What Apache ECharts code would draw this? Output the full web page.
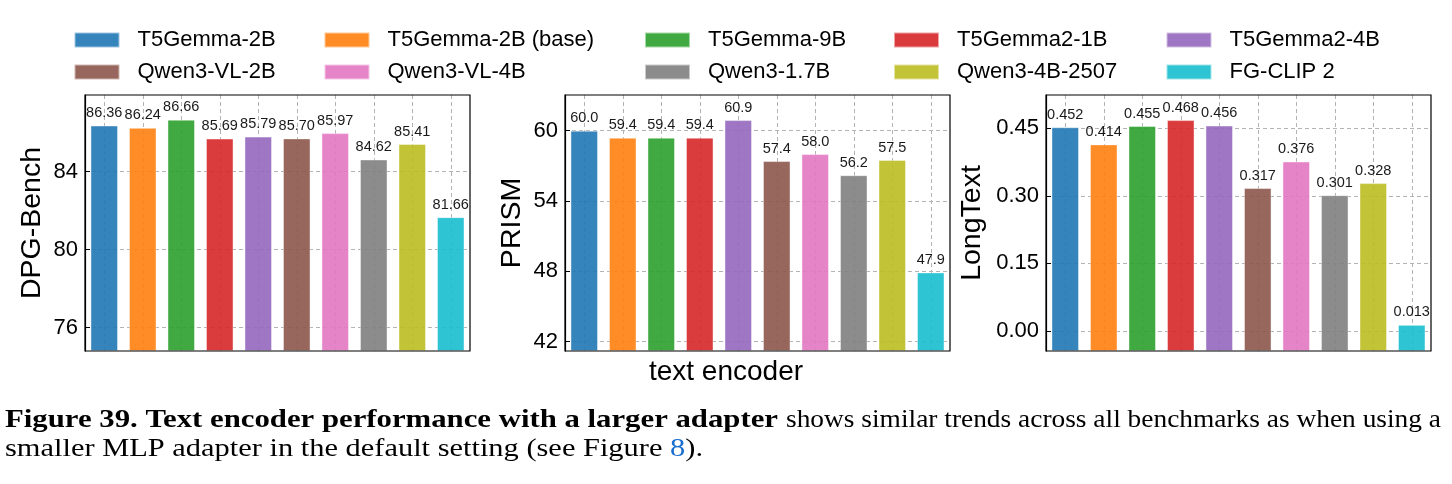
<!DOCTYPE html>
<html>
<head>
<meta charset="utf-8">
<script src="https://cdn.jsdelivr.net/npm/echarts@6/dist/echarts.min.js"></script>
<style>
  html, body { margin: 0; padding: 0; background: #fff; }
  #chart { width: 1452px; height: 484px; }
</style>
</head>
<body>
<div id="chart"></div>
<script>
var models = ["T5Gemma-2B", "T5Gemma-2B (base)", "T5Gemma-9B", "T5Gemma2-1B", "T5Gemma2-4B",
              "Qwen3-VL-2B", "Qwen3-VL-4B", "Qwen3-1.7B", "Qwen3-4B-2507", "FG-CLIP 2"];
var colors = ['#1f77b4', '#ff7f0e', '#2ca02c', '#d62728', '#9467bd',
              '#8c564b', '#e377c2', '#7f7f7f', '#bcbd22', '#17becf'];

var dpgBench = [86.36, 86.24, 86.66, 85.69, 85.79, 85.70, 85.97, 84.62, 85.41, 81.66];
var prism = [60.0, 59.4, 59.4, 59.4, 60.9, 57.4, 58.0, 56.2, 57.5, 47.9];
var longText = [0.452, 0.414, 0.455, 0.468, 0.456, 0.317, 0.376, 0.301, 0.328, 0.013];

var dpgTicks = [76, 80, 84];
var prismTicks = [42, 48, 54, 60];
var longTicks = [0, 0.15, 0.30, 0.45];

var panels = [
  { name: 'DPG-Bench', data: dpgBench, ticks: dpgTicks, min: 74.8, max: 87.93, dec: 2, tickDec: 0, left: 85, nameGap: 38 },
  { name: 'PRISM', data: prism, ticks: prismTicks, min: 41.2, max: 63.05, dec: 1, tickDec: 0, left: 565, nameGap: 38 },
  { name: 'LongText', data: longText, ticks: longTicks, min: -0.045, max: 0.524, dec: 3, tickDec: 2, left: 1046, nameGap: 59 }
];

var font = '"Liberation Sans", Arial, sans-serif';
var dash = { color: '#b3b3b3', type: [4, 3], width: 1 };
// vertical grid lines sit on the bar centres
var centreTicks = models.map(function (m, i) { return i + 0.5; });

var grids = [], xAxes = [], yAxes = [], series = [];
panels.forEach(function (p, k) {
  grids.push({ left: p.left, top: 95, width: 385, height: 256, show: true, z: 3,
               borderColor: '#000', borderWidth: 1.2, backgroundColor: 'transparent' });
  xAxes.push({
    type: 'category', gridIndex: k, data: models,
    axisLine: { show: false }, axisTick: { show: false }, axisLabel: { show: false },
    splitLine: { show: false }
  });
  yAxes.push({
    type: 'value', gridIndex: k, min: p.min, max: p.max, startValue: p.min,
    name: p.name, nameLocation: 'middle', nameGap: p.nameGap,
    nameTextStyle: { fontFamily: font, fontSize: 28.5, color: '#000' },
    axisLine: { show: true, lineStyle: { color: '#000', width: 1.2 } },
    axisTick: { show: true, inside: true, length: 5, customValues: p.ticks, lineStyle: { color: '#000' } },
    axisLabel: { customValues: p.ticks, fontFamily: font, fontSize: 22, color: '#000', margin: 7,
                 formatter: function (v) { return Number(v).toFixed(p.tickDec); } },
    splitLine: { show: true, lineStyle: dash }
  });
  models.forEach(function (m, i) {
    var vals = p.data.map(function (v, j) { return j === i ? v : '-'; });
    series.push({
      type: 'bar', name: m, xAxisIndex: k, yAxisIndex: k, data: vals,
      barWidth: '71%', barGap: '-100%',
      itemStyle: { color: colors[i], opacity: 0.9, borderColor: 'rgba(255,255,255,0.6)', borderWidth: 0.8 },
      label: { show: true, position: 'top', distance: 5, fontFamily: font, fontSize: 14.5, color: '#000',
               formatter: function (d) { return Number(d.value).toFixed(p.dec); } }
    });
  });
});
// helper value axes that only draw the vertical dashed lines
panels.forEach(function (p, k) {
  xAxes.push({
    type: 'value', gridIndex: k, min: 0, max: models.length, position: 'top',
    axisLine: { show: false }, axisLabel: { show: false },
    axisTick: { show: false, customValues: centreTicks },
    splitLine: { show: true, lineStyle: dash }
  });
});

// legend: 5 columns, 2 rows
var legendX = [73.5, 323.5, 644, 893, 1165.5];
var legends = legendX.map(function (x, c) {
  return {
    orient: 'vertical', left: x, top: 29, padding: 0, itemGap: 10,
    itemWidth: 45, itemHeight: 15, icon: 'rect',
    itemStyle: { opacity: 0.9 },
    data: [models[c], models[c + 5]],
    textStyle: { fontFamily: font, fontSize: 22, lineHeight: 21, color: '#000', padding: [0, 0, 0, 13] }
  };
});

// caption: each piece squeezed to the span it takes in the reference
var capFont = '"Liberation Serif", "Times New Roman", serif';
var capSize = 25;
var ctx = document.createElement('canvas').getContext('2d');
function measure(str, bold) {
  ctx.font = (bold ? 'bold ' : '') + capSize + 'px ' + capFont;
  return ctx.measureText(str).width;
}
function capText(str, x, y, s, bold, fill) {
  return { type: 'text', x: x, y: y, scaleX: s,
           style: { text: str, fontFamily: capFont, fontSize: capSize, fontWeight: bold ? 'bold' : 'normal', fill: fill || '#000' } };
}
var cap1a = 'Figure 39. Text encoder performance with a larger adapter';
var cap1b = 'shows similar trends across all benchmarks as when using a';
var cap2 = ['smaller MLP adapter in the default setting (see Figure ', '8', ').'];
var s2 = (703 - 5) / measure(cap2.join(''), false);
var x2b = 5 + s2 * measure(cap2[0], false);
var x2c = x2b + s2 * measure(cap2[1], false);

var myChart = echarts.init(document.getElementById('chart'));
var option = {
  animation: false,
  grid: grids,
  xAxis: xAxes,
  yAxis: yAxes,
  legend: legends,
  series: series,
  graphic: [
    { type: 'text', left: 'center', top: 358,
      style: { text: 'text encoder', font: '28px ' + font, fill: '#000' } },
    capText(cap1a, 5, 408, (778 - 5) / measure(cap1a, true), true),
    capText(cap1b, 786, 408, (1441 - 786) / measure(cap1b, false), false),
    capText(cap2[0], 5, 437, s2, false),
    capText(cap2[1], x2b, 437, s2, false, '#1a6fd1'),
    capText(cap2[2], x2c, 437, s2, false)
  ]
};
myChart.setOption(option);
</script>
</body>
</html>
